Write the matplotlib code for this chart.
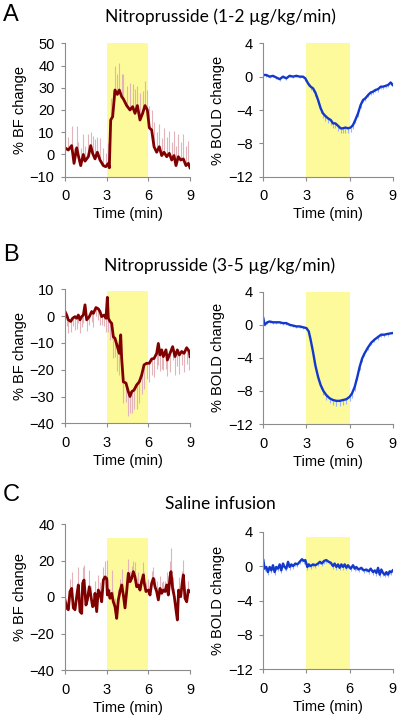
import numpy as np
import matplotlib.pyplot as plt

# ---- data (time in min, values in %) ----
bf_a_t = [0.00, 0.24, 0.48, 0.65, 0.84, 0.96, 1.13, 1.32, 1.44, 1.68, 1.85, 1.99, 2.16, 2.33,
          2.52, 2.76, 2.93, 3.12, 3.19, 3.29, 3.43, 3.60, 3.77, 3.91, 4.08, 4.20, 4.44, 4.68,
          4.87, 5.04, 5.21, 5.40, 5.59, 5.76, 5.93, 6.07, 6.24, 6.41, 6.60, 6.79, 6.96, 7.13,
          7.32, 7.51, 7.68, 7.85, 7.99, 8.16, 8.33, 8.52, 8.71, 8.88, 9.00]
bf_a = [3, 2, 4, -4, 3, -0.5, -5, 0, -3, -1, 4, 0.5, -2, 1, -2.5, -5, -5.5, -4, -6, 15.5,
        17, 29, 27, 29, 26, 25, 22, 20, 21.5, 18.5, 22, 15.5, 18.5, 22, 20, 12, 11, 3.5, 1, 3.5,
        -0.5, 1, -1, 0.5, -2.5, -0.5, -5, -1, -2.5, -2, -5, -4, -6]
bf_a_err = [8, 6, 9, 7, 10, 6, 8, 9, 7, 10, 6, 8, 9, 7, 10, 8, 6, 9, 7, 10,
            12, 11, 9, 12, 10, 11, 9, 12, 10, 11, 9, 12, 10, 11, 9, 10, 9, 11, 9, 10,
            8, 11, 9, 10, 8, 11, 9, 10, 8, 11, 9, 10, 8]

bf_b_t = [0.00, 0.12, 0.24, 0.41, 0.55, 0.72, 0.84, 0.96, 1.08, 1.20, 1.32, 1.44, 1.56, 1.75,
          1.92, 2.04, 2.23, 2.40, 2.52, 2.64, 2.81, 2.95, 3.05, 3.12, 3.24, 3.36, 3.48, 3.60,
          3.77, 3.91, 4.01, 4.08, 4.20, 4.39, 4.56, 4.68, 4.80, 4.97, 5.16, 5.35, 5.52, 5.69,
          5.88, 6.07, 6.24, 6.41, 6.60, 6.72, 6.84, 6.96, 7.08, 7.27, 7.37, 7.56, 7.75, 7.92,
          8.09, 8.23, 8.40, 8.57, 8.76, 8.95, 9.00]
bf_b = [1.7, 0.4, -1.4, -2, -0.8, -0.2, -0.8, 0.4, -1.4, -0.2, 0.4, 4.2, -1.4, -0.2,
        1.7, 1, 3.2, 2.7, 1.7, -0.2, 0.4, -0.8, 7, -0.8, -2, -2.7, -7.7, -8.3,
        -11.4, -13.9, -7, -15.8, -24.5, -25, -28.2, -30, -28.2, -27.6, -25.7, -24.5, -22, -18.2,
        -17.6, -17.6, -16, -15.8, -13.9, -10.2, -14.5, -12.6, -15.1, -12.6, -16.4, -13.9, -11.4, -15.1,
        -12.6, -14.5, -13.2, -13.9, -11.8, -13.2, -15.1]
bf_b_err = [3, 4, 5, 4, 3, 5, 4, 3, 5, 4, 3, 5, 4, 3,
            4, 5, 3, 4, 5, 3, 4, 5, 6, 5, 7, 6, 8, 7,
            9, 8, 7, 9, 8, 7, 9, 6, 8, 7, 9, 8, 7, 9,
            6, 7, 6, 7, 6, 8, 6, 7, 5, 7, 6, 7, 5, 7,
            6, 7, 5, 7, 6, 7, 5]

bf_c_t = [0.00, 0.12, 0.24, 0.36, 0.48, 0.60, 0.72, 0.84, 0.96, 1.08, 1.20, 1.27, 1.37, 1.51,
          1.61, 1.75, 1.87, 1.99, 2.09, 2.16, 2.28, 2.40, 2.52, 2.64, 2.76, 2.88, 3.00, 3.05,
          3.12, 3.24, 3.36, 3.48, 3.60, 3.72, 3.84, 3.96, 4.08, 4.20, 4.32, 4.44, 4.56, 4.68,
          4.80, 4.92, 5.04, 5.16, 5.28, 5.40, 5.52, 5.64, 5.71, 5.83, 6.00, 6.12, 6.24, 6.36,
          6.48, 6.60, 6.72, 6.84, 6.96, 7.08, 7.20, 7.32, 7.44, 7.56, 7.63, 7.75, 7.87, 7.99,
          8.09, 8.18, 8.33, 8.45, 8.52, 8.64, 8.76, 8.88, 9.00]
bf_c = [-1.6, -6, -7, 3, 4.7, -6, -7, 0.2, 6.6, -8, -9, 7.5, 9.3, -4.4,
        -1.6, 5.6, 0.2, -5.3, -4.4, 2, -8, 3.8, 2, -2.6, 9.3, 11, 10.2, 1.1,
        3.8, -0.7, 2, -2.6, -5.3, -11.7, -1.6, 3, 6.6, 1.1, -6, 3, 13, 8.4,
        10.2, 13.9, 11, 5.6, 6.6, 3.8, 8.4, 12.1, 7.5, 3, 3.8, 1.1, 7.5, 10.2,
        5.6, 3, -1.6, 4.7, 2, 3.8, 3, 6.6, 1.1, 11, 13.9, 4.7, 0.2, -7,
        -12.6, 3.8, 0.2, 8.4, 12.1, -0.7, -2.6, 3.8, 3]
bf_c_err = [5, 4, 6, 7, 9, 4, 5, 6, 10, 4, 5, 9, 8, 4,
            5, 9, 6, 4, 5, 7, 4, 8, 6, 5, 7, 9, 10, 5,
            6, 5, 13, 6, 5, 4, 6, 7, 9, 6, 5, 7, 8, 6,
            7, 6, 8, 5, 7, 6, 5, 7, 6, 5, 6, 5, 7, 6,
            5, 6, 5, 7, 6, 5, 6, 7, 5, 9, 13, 6, 5, 4,
            5, 7, 6, 6, 8, 5, 6, 5, 4]

bold_a_t = [0.00, 0.21, 0.44, 0.67, 0.90, 1.14, 1.37, 1.60, 1.83, 2.07, 2.30, 2.53, 2.76, 2.92,
            3.11, 3.29, 3.46, 3.62, 3.81, 3.99, 4.15, 4.31, 4.50, 4.69, 4.85, 5.01, 5.20, 5.38,
            5.54, 5.71, 5.89, 6.08, 6.24, 6.40, 6.59, 6.77, 6.94, 7.10, 7.29, 7.47, 7.63, 7.80,
            7.98, 8.17, 8.33, 8.51, 8.68, 8.86, 9.00]
bold_a = [0.2, 0.2, 0, 0.1, -0.1, -0.3, 0, -0.2, 0.1, 0, 0.1, 0, 0, -0.2,
          -0.8, -1.2, -1.4, -1.9, -2.8, -3.8, -4.4, -4.7, -5, -5.2, -5.6, -5.6, -5.9, -6.2,
          -6.2, -6.1, -6.2, -6.1, -5.8, -5.2, -4.4, -3.4, -2.8, -2.6, -2.2, -1.9, -1.8, -1.6,
          -1.5, -1.2, -1.2, -1.1, -1, -0.7, -1]
bold_a_err = [0.2, 0.2, 0.2, 0.2, 0.2, 0.2, 0.2, 0.2, 0.2, 0.2, 0.2, 0.2, 0.2, 0.3,
              0.3, 0.4, 0.4, 0.4, 0.5, 0.5, 0.5, 0.6, 0.6, 0.6, 0.6, 0.6, 0.6, 0.6,
              0.6, 0.6, 0.5, 0.5, 0.5, 0.4, 0.4, 0.4, 0.3, 0.3, 0.3, 0.3, 0.3, 0.3,
              0.3, 0.3, 0.3, 0.3, 0.3, 0.3, 0.3]

bold_b_t = [0.00, 0.09, 0.28, 0.44, 0.67, 0.90, 1.14, 1.37, 1.60, 1.83, 2.07, 2.30, 2.53, 2.76,
            3.00, 3.16, 3.29, 3.46, 3.62, 3.81, 3.99, 4.18, 4.38, 4.62, 4.85, 5.08, 5.31, 5.55,
            5.78, 6.01, 6.17, 6.36, 6.54, 6.70, 6.87, 7.03, 7.26, 7.49, 7.73, 7.96, 8.19, 8.42,
            8.65, 9.00]
bold_b = [0.8, 0, 0.3, 0.4, 0.3, 0.3, 0.3, 0.2, 0.2, 0, -0.1, -0.2, -0.2, -0.3,
          -0.4, -0.8, -1.8, -3.3, -4.9, -6.3, -7.3, -8, -8.5, -8.9, -9.1, -9.2, -9.2, -9.1,
          -9, -8.7, -8.3, -7.5, -6.3, -5.1, -4.1, -3.5, -2.8, -2.2, -1.8, -1.5, -1.2, -1.2,
          -1.1, -1]
bold_b_err = [0.2, 0.2, 0.2, 0.2, 0.2, 0.2, 0.2, 0.2, 0.2, 0.2, 0.2, 0.2, 0.2, 0.2,
              0.2, 0.3, 0.3, 0.4, 0.4, 0.5, 0.5, 0.5, 0.6, 0.6, 0.6, 0.6, 0.6, 0.6,
              0.6, 0.5, 0.5, 0.5, 0.4, 0.4, 0.4, 0.3, 0.3, 0.3, 0.3, 0.3, 0.3, 0.3,
              0.3, 0.3]

bold_c_t = [0.00, 0.09, 0.21, 0.32, 0.44, 0.56, 0.67, 0.79, 0.90, 1.02, 1.14, 1.25, 1.37, 1.48,
            1.60, 1.72, 1.83, 1.95, 2.07, 2.23, 2.37, 2.53, 2.69, 2.83, 2.92, 3.06, 3.16, 3.29,
            3.46, 3.62, 3.81, 3.94, 4.08, 4.22, 4.38, 4.55, 4.69, 4.85, 4.96, 5.08, 5.20, 5.31,
            5.43, 5.55, 5.66, 5.78, 5.89, 6.08, 6.24, 6.36, 6.47, 6.63, 6.82, 6.98, 7.17, 7.33,
            7.47, 7.63, 7.75, 7.87, 7.98, 8.10, 8.21, 8.33, 8.45, 8.56, 8.68, 8.79, 8.91, 9.00]
bold_c = [0.7, -0.3, -0.1, -0.7, -0.1, -0.5, 0.1, -0.7, -0.1, -0.3, 0.2, -0.5, 0.3, -0.1,
          -0.3, 0.5, -0.1, 0.2, 0, 0.3, 0.2, 0.5, 0.8, 0.6, 0.7, -0.1, 0.2, 0,
          0.2, 0.1, 0.3, 0.5, 0.3, 0.6, 0.7, 0.5, 0.4, 0, 0.3, -0.1, 0.2, -0.2,
          0.2, -0.1, 0.2, -0.2, 0.1, -0.3, 0.1, -0.3, -0.1, -0.4, -0.2, -0.5, -0.4, -0.6,
          -0.3, -0.7, -0.5, -0.8, -0.2, -1, -0.4, -0.8, -1, -0.7, -1, -0.6, -0.7, -0.5]
bold_c_err = [0.3] * len(bold_c)

stim_on, stim_off = 3, 6
stim_top = [50, 9.5, 32.5, 4, 4, 3.4]
bf_ylims = [(-10, 50), (-40, 10), (-40, 40)]
bf_yticks = [range(-10, 51, 10), range(-40, 11, 10), range(-40, 41, 20)]
bold_ylim = (-12, 4)
bold_yticks = [-12, -8, -4, 0, 4]

titles = ['Nitroprusside (1-2 \u00b5g/kg/min)', 'Nitroprusside (3-5 \u00b5g/kg/min)', 'Saline infusion']
letters = ['A', 'B', 'C']

# ---- layout ----
W, H = 400, 719
left_boxes = [(65, 43.3, 190, 176.7), (65, 289.3, 190, 423.3), (65, 524, 190, 670)]
right_boxes = [(263.3, 43.3, 392.7, 176.7), (263.3, 291.7, 392.7, 424), (263.3, 531.7, 392.7, 669.3)]
title_y = [17, 266, 504]
letter_y = [15, 255, 495]

RED = '#800000'
PINK = '#e2b4ba'
BLUE = '#1238cc'
LBLUE = '#9db6f2'
YELLOW = '#fdfa9c'
GREY = '#8c8c8c'
FS = 10.5

fig = plt.figure(figsize=(W / 100, H / 100), dpi=100)


def make_ax(box):
    x0, y0, x1, y1 = box
    return fig.add_axes([x0 / W, 1 - y1 / H, (x1 - x0) / W, (y1 - y0) / H])


def style(ax, ylim, yticks, ylabel):
    ax.set_xlim(0, 9)
    ax.set_ylim(*ylim)
    ax.set_xticks([0, 3, 6, 9])
    ax.set_yticks(list(yticks))
    for s in ['top', 'right']:
        ax.spines[s].set_visible(False)
    for s in ['left', 'bottom']:
        ax.spines[s].set_color(GREY)
        ax.spines[s].set_linewidth(0.8)
    ax.tick_params(color=GREY, length=3, width=0.8, labelsize=FS)
    ax.tick_params(axis='x', pad=6)
    ax.tick_params(axis='y', pad=4.5)
    ax.set_xlabel('Time (min)', fontsize=FS, labelpad=3)
    ax.set_ylabel(ylabel, fontsize=FS, labelpad=2)


plt.rcParams['font.family'] = ['Liberation Sans', 'DejaVu Sans']

bf_sets = [(bf_a_t, bf_a, bf_a_err, 1), (bf_b_t, bf_b, bf_b_err, -1), (bf_c_t, bf_c, bf_c_err, 1)]
bold_sets = [(bold_a_t, bold_a, bold_a_err), (bold_b_t, bold_b, bold_b_err), (bold_c_t, bold_c, bold_c_err)]

for i in range(3):
    # blood flow
    ax = make_ax(left_boxes[i])
    t, y, e, sign = bf_sets[i]
    y = np.array(y)
    e = np.array(e)
    ax.fill_between([stim_on, stim_off], bf_ylims[i][0], stim_top[i], color=YELLOW, lw=0, zorder=0)
    ax.vlines(t, y, y + sign * e, color=PINK, lw=0.8, zorder=1)
    ax.plot(t, y, color=RED, lw=2.0, zorder=2)
    style(ax, bf_ylims[i], bf_yticks[i], '% BF change')

    # BOLD
    ax = make_ax(right_boxes[i])
    t, y, e = bold_sets[i]
    y = np.array(y)
    e = np.array(e)
    ax.fill_between([stim_on, stim_off], bold_ylim[0], stim_top[3 + i], color=YELLOW, lw=0, zorder=0)
    ax.vlines(t, y - e, y, color=LBLUE, lw=0.8, zorder=1)
    ax.plot(t, y, color=BLUE, lw=1.7, zorder=2)
    style(ax, bold_ylim, bold_yticks, '% BOLD change')

    fig.text(220 / W, 1 - title_y[i] / H, titles[i], ha='center', va='center',
             fontsize=12.5, family=['Lato', 'DejaVu Sans'])
    fig.text(3 / W, 1 - letter_y[i] / H, letters[i], ha='left', va='center', fontsize=17)

fig.savefig('out.png', dpi=100)
